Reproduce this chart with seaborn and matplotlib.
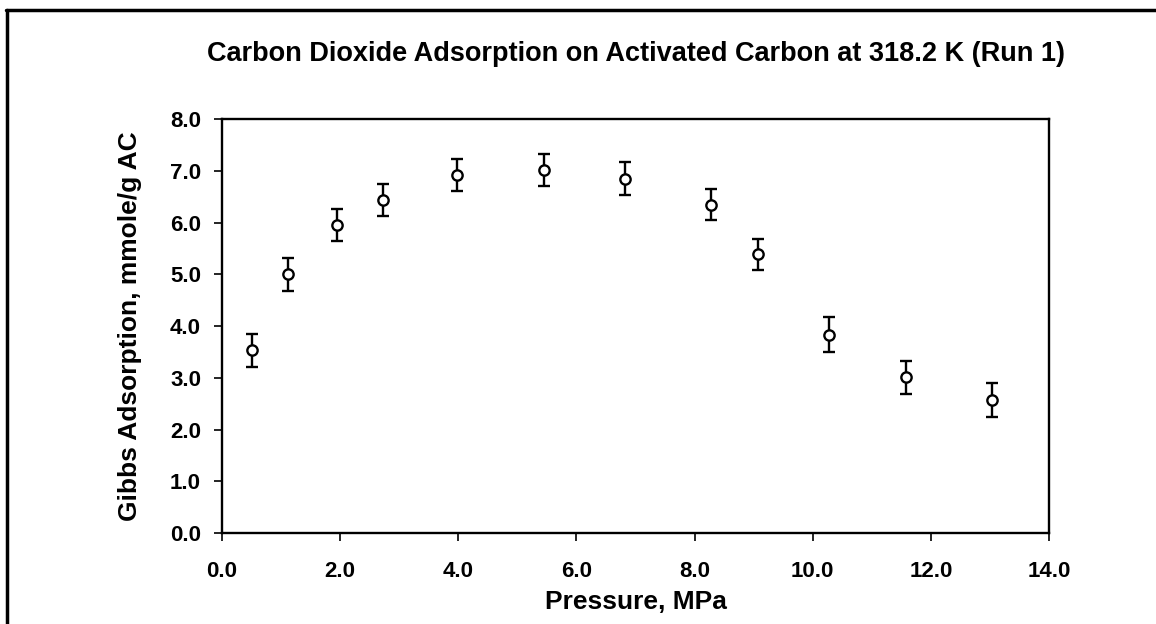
import matplotlib
matplotlib.use("Agg")
import matplotlib.pyplot as plt
from matplotlib.lines import Line2D
from matplotlib.ticker import FormatStrFormatter
import seaborn as sns
import pandas as pd

# Valori
pressure = [0.51, 1.11, 1.95, 2.72, 3.98, 5.45, 6.83, 8.27, 9.08, 10.28, 11.58, 13.03]
adsorption = [3.53, 5.00, 5.95, 6.43, 6.91, 7.01, 6.85, 6.34, 5.39, 3.83, 3.01, 2.57]
error = [0.32, 0.32, 0.31, 0.31, 0.31, 0.31, 0.31, 0.30, 0.30, 0.34, 0.32, 0.33]

x_ticks = [0, 2, 4, 6, 8, 10, 12, 14]
y_ticks = [0, 1, 2, 3, 4, 5, 6, 7, 8]

df = pd.DataFrame({'pressure': pressure, 'adsorption': adsorption, 'error': error})

sns.set_theme(style='ticks')
plt.rcParams['font.family'] = ['Liberation Sans', 'DejaVu Sans']
plt.rcParams['text.color'] = 'black'
plt.rcParams['axes.labelcolor'] = 'black'

fig = plt.figure(figsize=(11.56, 6.24), dpi=100)
ax = fig.add_axes([0.192, 0.1458, 0.7155, 0.6635])

ax.errorbar(df['pressure'], df['adsorption'], yerr=df['error'], fmt='none',
            ecolor='black', elinewidth=1.7, capsize=4.5, capthick=1.7, zorder=2)
sns.scatterplot(data=df, x='pressure', y='adsorption', ax=ax, marker='o', s=55,
                facecolor='white', edgecolor='black', linewidth=1.7, zorder=3)

ax.set_xlim(0, 14)
ax.set_ylim(0, 8)
ax.set_xticks(x_ticks)
ax.set_yticks(y_ticks)
ax.xaxis.set_major_formatter(FormatStrFormatter('%.1f'))
ax.yaxis.set_major_formatter(FormatStrFormatter('%.1f'))
ax.tick_params(axis='both', direction='out', length=6, width=1.2, colors='black',
               labelsize=16, labelcolor='black')
ax.tick_params(axis='y', pad=9)
ax.tick_params(axis='x', pad=14)
for lab in ax.get_xticklabels() + ax.get_yticklabels():
    lab.set_fontweight('bold')

for sp in ax.spines.values():
    sp.set_visible(True)
    sp.set_linewidth(1.7)
    sp.set_color('black')

ax.set_xlabel('Pressure, MPa', fontsize=19, fontweight='bold', labelpad=6, color='black')
ax.set_ylabel('Gibbs Adsorption, mmole/g AC', fontsize=19, fontweight='bold',
              labelpad=20, color='black')
ax.set_title('Carbon Dioxide Adsorption on Activated Carbon at 318.2 K (Run 1)',
             fontsize=19.5, fontweight='bold', pad=42, color='black')

# cornice esterna (bordo superiore e sinistro)
fig.add_artist(Line2D([0.005, 1.0], [0.984, 0.984], transform=fig.transFigure,
                      color='black', linewidth=2.5))
fig.add_artist(Line2D([0.006, 0.006], [0.0, 0.984], transform=fig.transFigure,
                      color='black', linewidth=2.5))

fig.savefig('out.png', dpi=100, facecolor='white')
